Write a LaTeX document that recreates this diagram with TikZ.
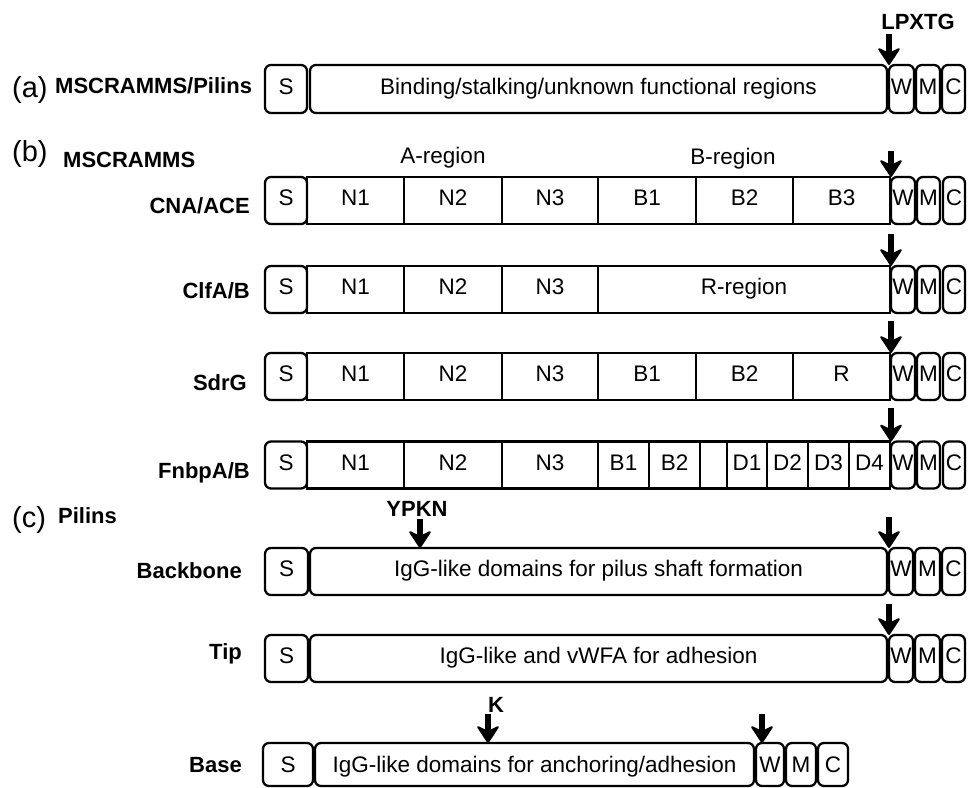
\documentclass[tikz,border=0pt]{standalone}
\usepackage{fontspec}
\setmainfont{Liberation Sans}
\usetikzlibrary{arrows.meta}
\newcommand\regf{\fontsize{22.5}{26}\selectfont}
\newcommand\boldf{\fontsize{22}{26}\selectfont\bfseries}
\newcommand\bigf{\fontsize{29}{32}\selectfont}
\tikzset{
  rowlbl/.style={font=\boldf, inner sep=0pt, anchor=base east},
  hdr/.style={inner sep=0pt, anchor=base west},
  rb/.style={draw, line width=2.3pt, rounded corners=6pt, inner sep=0pt, outer sep=0pt,
             text height=16pt, text depth=6pt, font=\regf},
  sq/.style={rb, sharp corners},
  arr/.style={line width=5.5pt, -{Stealth[length=19pt 0,width=25pt 0,inset=6pt 0,line width=2pt,round]}},
  motif/.style={font=\boldf, inner sep=0pt, anchor=base},
}
\begin{document}
\begin{tikzpicture}[x=1pt,y=-1pt]
\useasboundingbox (0,0) rectangle (968,787);

% ---------- (a)
\node[hdr, font=\bigf] (aTag) at (12,97) {(a)};
\node[hdr, font=\boldf] (aLbl) at (55,93) {MSCRAMMS/Pilins};
\node[rb, minimum width=42, minimum height=48] (aS) at (286,89) {S};
\node[rb, minimum width=577, minimum height=48] (aMain) at (598.5,89) {Binding/stalking/unknown functional regions};
\node[rb, minimum width=25, minimum height=48] (aW) at (901.5,89) {W};
\node[rb, minimum width=24, minimum height=48] (aM) at (928,89) {M};
\node[rb, minimum width=23, minimum height=48] (aC) at (953.5,89) {C};
\node[motif] (lpxtg) at (918,29) {LPXTG};
\coordinate (aTop) at (889,34);
\draw[arr] (aTop) -- (aW.north west);

% ---------- (b)
\node[hdr, font=\bigf] (bTag) at (12,161) {(b)};
\node[hdr, font=\boldf] (bLbl) at (63,167) {MSCRAMMS};
\node[inner sep=0pt, anchor=base, font=\regf] (aReg) at (443,163) {A-region};
\node[inner sep=0pt, anchor=base, font=\regf] (bReg) at (733,164) {B-region};

% CNA/ACE
\node[rowlbl] (cnaL) at (250,213) {CNA/ACE};
\node[rb, minimum width=42, minimum height=47] (cnaS) at (286,200.5) {S};
\node[sq, minimum width=97, minimum height=47] (cnaN1) at (355.5,200.5) {N1};
\node[sq, minimum width=98, minimum height=47] (cnaN2) at (453,200.5) {N2};
\node[sq, minimum width=96, minimum height=47] (cnaN3) at (550,200.5) {N3};
\node[sq, minimum width=98, minimum height=47] (cnaB1) at (647,200.5) {B1};
\node[sq, minimum width=97, minimum height=47] (cnaB2) at (744.5,200.5) {B2};
\node[sq, minimum width=97, minimum height=47] (cnaB3) at (841.5,200.5) {B3};
\node[rb, minimum width=24, minimum height=47] (cnaW) at (903,200.5) {W};
\node[rb, minimum width=23, minimum height=47] (cnaM) at (928.5,200.5) {M};
\node[rb, minimum width=22, minimum height=47] (cnaC) at (954,200.5) {C};
\coordinate (cnaTop) at (891,151);
\draw[arr] (cnaTop) -- (cnaW.north west);

% ClfA/B
\node[rowlbl] (clfL) at (250,298) {ClfA/B};
\node[rb, minimum width=42, minimum height=47] (clfS) at (286,289.5) {S};
\node[sq, minimum width=97, minimum height=47] (clfN1) at (355.5,289.5) {N1};
\node[sq, minimum width=98, minimum height=47] (clfN2) at (453,289.5) {N2};
\node[sq, minimum width=96, minimum height=47] (clfN3) at (550,289.5) {N3};
\node[sq, minimum width=292, minimum height=47] (clfR) at (744,289.5) {R-region};
\node[rb, minimum width=24, minimum height=47] (clfW) at (903,289.5) {W};
\node[rb, minimum width=23, minimum height=47] (clfM) at (928.5,289.5) {M};
\node[rb, minimum width=22, minimum height=47] (clfC) at (954,289.5) {C};
\coordinate (clfTop) at (891,234);
\draw[arr] (clfTop) -- (clfW.north west);

% SdrG
\node[rowlbl] (sdrL) at (247,390) {SdrG};
\node[rb, minimum width=42, minimum height=47] (sdrS) at (286,376.5) {S};
\node[sq, minimum width=97, minimum height=47] (sdrN1) at (355.5,376.5) {N1};
\node[sq, minimum width=98, minimum height=47] (sdrN2) at (453,376.5) {N2};
\node[sq, minimum width=96, minimum height=47] (sdrN3) at (550,376.5) {N3};
\node[sq, minimum width=98, minimum height=47] (sdrB1) at (647,376.5) {B1};
\node[sq, minimum width=97, minimum height=47] (sdrB2) at (744.5,376.5) {B2};
\node[sq, minimum width=97, minimum height=47] (sdrR) at (841.5,376.5) {R};
\node[rb, minimum width=24, minimum height=47] (sdrW) at (903,376.5) {W};
\node[rb, minimum width=23, minimum height=47] (sdrM) at (928.5,376.5) {M};
\node[rb, minimum width=22, minimum height=47] (sdrC) at (954,376.5) {C};
\coordinate (sdrTop) at (891,321);
\draw[arr] (sdrTop) -- (sdrW.north west);

% FnbpA/B
\node[rowlbl] (fnbL) at (250,478) {FnbpA/B};
\node[rb, minimum width=42, minimum height=47] (fnbS) at (286,465) {S};
\node[sq, minimum width=97, minimum height=47] (fnbN1) at (355.5,465) {N1};
\node[sq, minimum width=98, minimum height=47] (fnbN2) at (453,465) {N2};
\node[sq, minimum width=96, minimum height=47] (fnbN3) at (550,465) {N3};
\node[sq, minimum width=51, minimum height=47] (fnbB1) at (623.5,465) {B1};
\node[sq, minimum width=51, minimum height=47] (fnbB2) at (674.5,465) {B2};
\node[sq, minimum width=27, minimum height=47] (fnbX) at (713.5,465) {};
\node[sq, minimum width=40, minimum height=47] (fnbD1) at (747,465) {D1};
\node[sq, minimum width=41, minimum height=47] (fnbD2) at (787.5,465) {D2};
\node[sq, minimum width=41, minimum height=47] (fnbD3) at (828.5,465) {D3};
\node[sq, minimum width=41, minimum height=47] (fnbD4) at (869.5,465) {D4};
\node[rb, minimum width=24, minimum height=47] (fnbW) at (903,465) {W};
\node[rb, minimum width=23, minimum height=47] (fnbM) at (928.5,465) {M};
\node[rb, minimum width=22, minimum height=47] (fnbC) at (954,465) {C};
\coordinate (fnbTop) at (891,408);
\draw[arr] (fnbTop) -- (fnbW.north west);

% ---------- (c)
\node[hdr, font=\bigf] (cTag) at (12,527) {(c)};
\node[hdr, font=\boldf] (cLbl) at (58,523) {Pilins};

% Backbone
\node[rowlbl] (bbL) at (242,578) {Backbone};
\node[rb, minimum width=43, minimum height=47] (bbS) at (286.5,571.5) {S};
\node[rb, minimum width=577, minimum height=47] (bbMain) at (598.5,571.5) {IgG-like domains for pilus shaft formation};
\node[rb, minimum width=24, minimum height=47] (bbW) at (901,571.5) {W};
\node[rb, minimum width=25, minimum height=47] (bbM) at (927.5,571.5) {M};
\node[rb, minimum width=23, minimum height=47] (bbC) at (953.5,571.5) {C};
\node[motif] (ypkn) at (417,516) {YPKN};
\coordinate (ypTop) at (420,519);
\draw[arr] (ypTop) -- (ypTop |- bbMain.north);
\coordinate (bbTop) at (889,517);
\draw[arr] (bbTop) -- (bbW.north west);

% Tip
\node[rowlbl] (tipL) at (242,659) {Tip};
\node[rb, minimum width=43, minimum height=47] (tipS) at (286.5,658.5) {S};
\node[rb, minimum width=577, minimum height=47] (tipMain) at (598.5,658.5) {IgG-like and vWFA for adhesion};
\node[rb, minimum width=24, minimum height=47] (tipW) at (901,658.5) {W};
\node[rb, minimum width=25, minimum height=47] (tipM) at (927.5,658.5) {M};
\node[rb, minimum width=23, minimum height=47] (tipC) at (953.5,658.5) {C};
\coordinate (tipTop) at (889,604);
\draw[arr] (tipTop) -- (tipW.north west);

% Base
\node[rowlbl] (baseL) at (242,772) {Base};
\node[rb, minimum width=50, minimum height=43, text height=19pt, text depth=3pt] (baseS) at (288,764.5) {S};
\node[rb, minimum width=439, minimum height=43, text height=19pt, text depth=3pt] (baseMain) at (534.5,764.5) {IgG-like domains for anchoring/adhesion};
\node[rb, minimum width=28, minimum height=43, text height=19pt, text depth=3pt] (baseW) at (770,764.5) {W};
\node[rb, minimum width=30, minimum height=43, text height=19pt, text depth=3pt] (baseM) at (801,764.5) {M};
\node[rb, minimum width=30, minimum height=43, text height=19pt, text depth=3pt] (baseC) at (833,764.5) {C};
\node[motif] (kmot) at (496,712) {K};
\coordinate (kTop) at (488,714);
\draw[arr] (kTop) -- (kTop |- baseMain.north);
\coordinate (bsTop) at (762,714);
\draw[arr] (bsTop) -- (bsTop |- baseW.north);
\end{tikzpicture}
\end{document}
